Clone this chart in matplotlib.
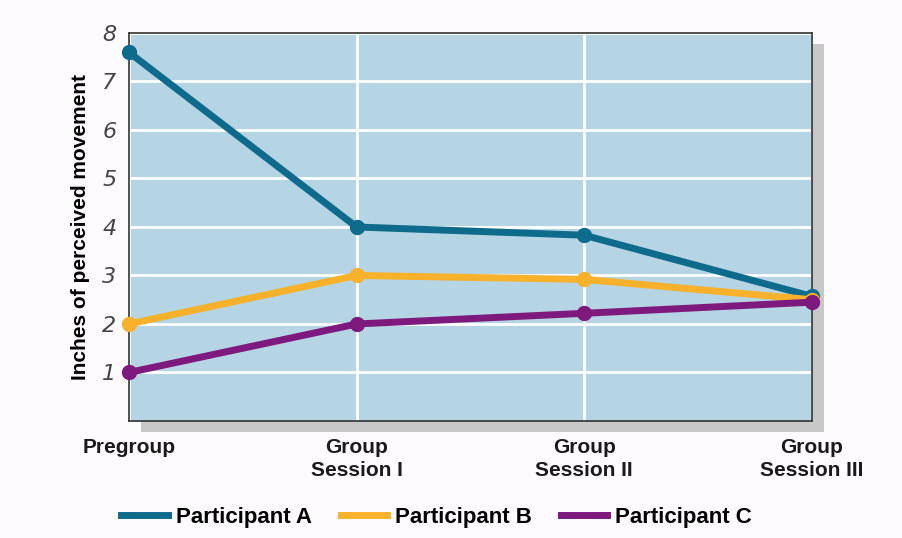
import matplotlib.pyplot as plt
from matplotlib.patches import Rectangle
from matplotlib.lines import Line2D

plt.rcParams['font.family'] = ['Liberation Sans', 'DejaVu Sans']

stages = ['Pregroup', 'Group\nSession I', 'Group\nSession II', 'Group\nSession III']
part_a = [7.6, 4.0, 3.83, 2.57]
part_b = [2.0, 3.0, 2.92, 2.5]
part_c = [1.0, 2.0, 2.22, 2.45]
names = ['Participant A', 'Participant B', 'Participant C']
colors = ['#0e6b8c', '#f8b12a', '#7e1a7e']

fig = plt.figure(figsize=(9.02, 5.38), dpi=100)
fig.patch.set_facecolor('#fdfbfd')

l, b, w, h = 0.143, 0.2175, 0.757, 0.7212
# drop shadow behind the plot area
shadow = fig.add_axes([l + 0.013, b - 0.02, w, h], zorder=0)
shadow.axis('off')
shadow.add_patch(Rectangle((0, 0), 1, 1, transform=shadow.transAxes, color='#c8c8c8'))

ax = fig.add_axes([l, b, w, h], zorder=1)
ax.set_facecolor('#b5d5e5')

x = range(len(stages))
for vals, c in zip([part_a, part_b, part_c], colors):
    ax.plot(x, vals, color=c, lw=5, marker='o', ms=10, clip_on=False, zorder=3)

ax.set_xlim(0, 3)
ax.set_ylim(0, 8)
ax.set_yticks(range(1, 9))
ax.set_yticklabels([str(i) for i in range(1, 9)], fontstyle='italic', color='#444444',
                   fontsize=16, family=['DejaVu Sans'])
ax.set_xticks(list(x))
ax.set_xticklabels(stages, fontsize=15, fontweight='bold', color='#1a1a1a', linespacing=1.3)
ax.tick_params(length=0, pad=9)
ax.tick_params(axis='x', pad=12)
ax.grid(color='white', lw=2)
ax.set_axisbelow(True)
for s in ax.spines.values():
    s.set_color('#333333')
    s.set_linewidth(1.2)

ax.set_ylabel('Inches of perceived movement', fontsize=15, fontweight='bold', labelpad=9)

handles = [Line2D([0], [0], color=c, lw=5) for c in colors]
fig.legend(handles, names, loc='center', bbox_to_anchor=(0.484, 0.039), ncol=3,
           frameon=False, prop={'weight': 'bold', 'size': 16},
           handlelength=2.1, handletextpad=0.35, columnspacing=1.3)

fig.savefig('out.png', dpi=100, facecolor=fig.get_facecolor())
